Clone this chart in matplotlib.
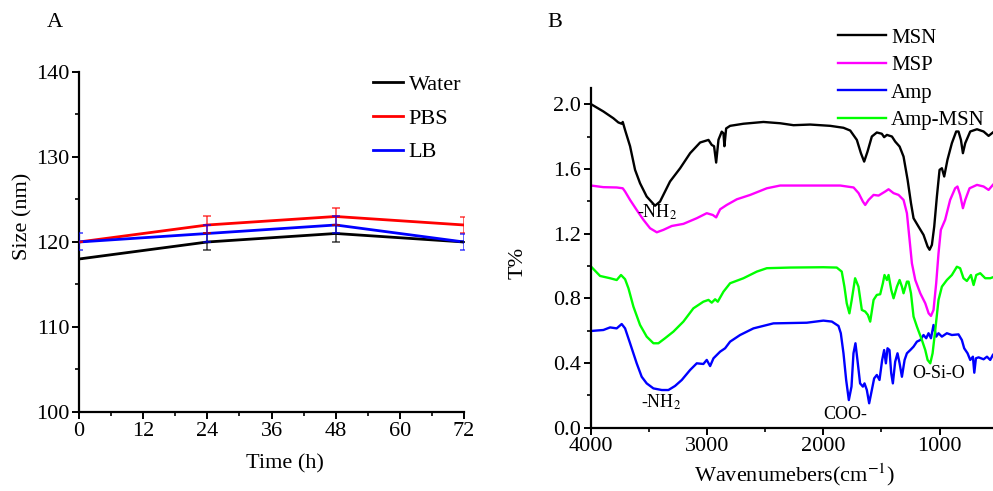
import matplotlib
matplotlib.use("Agg")
import matplotlib.pyplot as plt
from matplotlib.ticker import MultipleLocator, FormatStrFormatter

plt.rcParams['font.family'] = ['Liberation Serif', 'DejaVu Serif']
plt.rcParams['mathtext.fontset'] = 'stix'

# --- Panel A: particle size vs time ---
time_h = [0, 24, 48, 72]
water = [118, 120, 121, 120]
water_err = [0, 1, 1, 0]
pbs = [120, 122, 123, 122]
pbs_err = [0, 1, 1, 0.9]
lb = [120, 121, 122, 120]
lb_err = [1, 1, 1, 0.9]

# --- Panel B: FTIR spectra (wavenumber, T%) ---
msn_w = [4000, 3894, 3808, 3765, 3736, 3727, 3707, 3664, 3621, 3578, 3521, 3449, 3406, 3320,
         3233, 3147, 3061, 2989, 2961, 2941, 2923, 2903, 2875, 2860, 2852, 2837, 2803, 2688,
         2516, 2372, 2257, 2114, 1941, 1827, 1769, 1712, 1677, 1649, 1620, 1583, 1540, 1497,
         1477, 1453, 1410, 1382, 1344, 1310, 1275, 1246, 1224, 1181, 1138, 1103, 1086, 1066,
         1046, 1023, 1000, 980, 960, 932, 894, 857, 837, 816, 799, 779, 736, 678, 621, 578, 541]
msn_t = [2.0, 1.955, 1.913, 1.887, 1.879, 1.89, 1.84, 1.74, 1.594, 1.511, 1.429, 1.372, 1.398, 1.522,
         1.604, 1.697, 1.763, 1.779, 1.748, 1.74, 1.639, 1.78, 1.83, 1.82, 1.74, 1.85, 1.866, 1.879,
         1.89, 1.882, 1.87, 1.874, 1.866, 1.854, 1.837, 1.779, 1.697, 1.645, 1.707, 1.80, 1.825, 1.817,
         1.796, 1.81, 1.80, 1.769, 1.738, 1.676, 1.532, 1.388, 1.295, 1.243, 1.192, 1.12, 1.10, 1.13,
         1.243, 1.429, 1.594, 1.604, 1.553, 1.656, 1.759, 1.831, 1.831, 1.779, 1.697, 1.759, 1.831,
         1.845, 1.831, 1.804, 1.825]

msp_w = [4000, 3894, 3779, 3727, 3707, 3664, 3607, 3549, 3492, 3434, 3377, 3305, 3205, 3090,
         3004, 2952, 2923, 2889, 2832, 2745, 2630, 2487, 2372, 2143, 1855, 1740, 1697, 1660,
         1640, 1611, 1568, 1525, 1468, 1439, 1396, 1353, 1310, 1281, 1258, 1238, 1209, 1166,
         1123, 1094, 1074, 1052, 1029, 1009, 989, 952, 909, 866, 846, 823, 799, 779, 742, 678,
         621, 578, 541]
msp_t = [1.497, 1.487, 1.485, 1.48, 1.46, 1.408, 1.346, 1.285, 1.233, 1.208, 1.223, 1.247, 1.26, 1.295,
         1.326, 1.315, 1.30, 1.35, 1.377, 1.412, 1.439, 1.48, 1.497, 1.497, 1.497, 1.485, 1.45, 1.398,
         1.377, 1.408, 1.439, 1.435, 1.46, 1.474, 1.45, 1.439, 1.408, 1.326, 1.161, 1.016, 0.913, 0.831,
         0.769, 0.707, 0.691, 0.728, 0.893, 1.078, 1.223, 1.285, 1.408, 1.48, 1.491, 1.439, 1.357,
         1.408, 1.48, 1.501, 1.491, 1.47, 1.501]

amp_w = [4000, 3894, 3836, 3779, 3736, 3707, 3664, 3607, 3564, 3521, 3463, 3391, 3334, 3277,
         3219, 3147, 3090, 3033, 3004, 2975, 2946, 2889, 2846, 2803, 2717, 2602, 2430, 2143,
         2000, 1927, 1870, 1850, 1827, 1804, 1781, 1758, 1741, 1724, 1707, 1684, 1660, 1646,
         1626, 1606, 1583, 1563, 1540, 1517, 1494, 1477, 1462, 1448, 1431, 1416, 1402, 1382,
         1362, 1344, 1324, 1301, 1281, 1252, 1224, 1195, 1166, 1138, 1115, 1095, 1074, 1052,
         1029, 1009, 980, 937, 894, 837, 808, 788, 759, 736, 713, 701, 687, 664, 621, 592, 564, 541]
amp_t = [0.598, 0.604, 0.62, 0.614, 0.641, 0.614, 0.522, 0.398, 0.315, 0.274, 0.243, 0.233, 0.233,
         0.258, 0.295, 0.357, 0.398, 0.394, 0.419, 0.381, 0.429, 0.47, 0.491, 0.532, 0.573, 0.614,
         0.645, 0.649, 0.662, 0.656, 0.629, 0.584, 0.46, 0.295, 0.171, 0.254, 0.46, 0.522, 0.419,
         0.274, 0.254, 0.274, 0.233, 0.151, 0.233, 0.305, 0.326, 0.295, 0.419, 0.48, 0.398, 0.491,
         0.48, 0.336, 0.274, 0.408, 0.46, 0.398, 0.315, 0.419, 0.46, 0.48, 0.501, 0.532, 0.542,
         0.573, 0.553, 0.584, 0.553, 0.635, 0.563, 0.584, 0.563, 0.584, 0.573, 0.577, 0.542, 0.491,
         0.46, 0.419, 0.439, 0.34, 0.429, 0.435, 0.423, 0.439, 0.419, 0.45]

ampmsn_w = [4000, 3922, 3836, 3779, 3742, 3707, 3678, 3635, 3578, 3521, 3463, 3420, 3363, 3291,
            3205, 3119, 3033, 2989, 2961, 2932, 2909, 2860, 2803, 2688, 2573, 2487, 2286, 2000,
            1885, 1842, 1819, 1799, 1776, 1756, 1727, 1698, 1669, 1640, 1617, 1597, 1568, 1540,
            1511, 1488, 1474, 1453, 1439, 1416, 1396, 1367, 1344, 1324, 1310, 1281, 1267, 1246,
            1224, 1195, 1152, 1123, 1103, 1080, 1060, 1037, 1009, 980, 937, 894, 851, 823, 794,
            765, 730, 707, 684, 650, 607, 564, 541]
ampmsn_t = [0.996, 0.938, 0.924, 0.913, 0.944, 0.918, 0.862, 0.748, 0.635, 0.563, 0.522, 0.522,
            0.553, 0.594, 0.656, 0.738, 0.779, 0.79, 0.773, 0.794, 0.779, 0.841, 0.893, 0.924, 0.965,
            0.986, 0.99, 0.992, 0.99, 0.965, 0.872, 0.769, 0.707, 0.79, 0.924, 0.872, 0.728, 0.718,
            0.697, 0.656, 0.79, 0.821, 0.825, 0.893, 0.944, 0.913, 0.944, 0.852, 0.80, 0.872, 0.913,
            0.872, 0.831, 0.903, 0.903, 0.831, 0.687, 0.625, 0.542, 0.48, 0.419, 0.398, 0.46, 0.604,
            0.79, 0.872, 0.913, 0.944, 0.995, 0.986, 0.924, 0.907, 0.944, 0.882, 0.944, 0.955, 0.924,
            0.924, 0.93]


def style_axes(ax):
    for side in ('top', 'right'):
        ax.spines[side].set_visible(False)
    for side in ('left', 'bottom'):
        ax.spines[side].set_linewidth(1.6)
    ax.tick_params(which='major', direction='out', length=5, width=1.4, labelsize=16, pad=2)
    ax.tick_params(which='minor', direction='out', length=3, width=1.2)


fig = plt.figure(figsize=(9.93, 4.91), dpi=100)

# Panel A
axA = fig.add_axes([0.0796, 0.1609, 0.3877, 0.6925])
axA.plot(time_h, water, color='black', lw=2, label='Water', zorder=3)
axA.plot(time_h, pbs, color='red', lw=2, label='PBS', zorder=3)
axA.plot(time_h, lb, color='blue', lw=2, label='LB', zorder=3)
axA.errorbar(time_h, water, yerr=water_err, fmt='none', ecolor='black', alpha=0.7,
             elinewidth=1.2, capsize=3, capthick=1.2, zorder=4)
axA.errorbar(time_h, pbs, yerr=pbs_err, fmt='none', ecolor='red', alpha=0.7,
             elinewidth=1.2, capsize=3, capthick=1.2, zorder=4)
axA.errorbar(time_h, lb, yerr=lb_err, fmt='none', ecolor='blue', alpha=0.7,
             elinewidth=1.2, capsize=3, capthick=1.2, zorder=4)
axA.set_xlim(0, 72)
axA.set_ylim(100, 140)
axA.xaxis.set_major_locator(MultipleLocator(12))
axA.xaxis.set_minor_locator(MultipleLocator(6))
axA.yaxis.set_major_locator(MultipleLocator(10))
axA.yaxis.set_minor_locator(MultipleLocator(5))
style_axes(axA)
axA.set_xlabel('Time (h)', fontsize=16)
axA.set_ylabel('Size (nm)', fontsize=16)
axA.xaxis.set_label_coords(0.535, -0.125)
axA.yaxis.set_label_coords(-0.122, 0.576)
axA.legend(loc='upper left', bbox_to_anchor=(0.3756, 0.849), bbox_transform=fig.transFigure,
           frameon=False, fontsize=16, handlelength=1.35, handletextpad=0.25,
           labelspacing=0.6, borderpad=0, borderaxespad=0)
fig.text(0.0554, 0.955, 'A', fontsize=16, ha='center', va='center')

# Panel B
axB = fig.add_axes([0.5952, 0.1289, 0.4048, 0.6919])
axB.plot(msn_w, msn_t, color='black', lw=1.7, label='MSN')
axB.plot(msp_w, msp_t, color='#ff00ff', lw=1.7, label='MSP')
axB.plot(amp_w, amp_t, color='#0000ff', lw=1.7, label='Amp')
axB.plot(ampmsn_w, ampmsn_t, color='#00ff00', lw=1.7, label='Amp-MSN')
axB.set_xlim(4000, 540)
axB.set_ylim(0, 2.1)
axB.xaxis.set_major_locator(MultipleLocator(1000))
axB.xaxis.set_minor_locator(MultipleLocator(500))
axB.yaxis.set_major_locator(MultipleLocator(0.4))
axB.yaxis.set_minor_locator(MultipleLocator(0.2))
axB.yaxis.set_major_formatter(FormatStrFormatter('%.1f'))
style_axes(axB)
axB.set_xlabel('Wavenumebers(cm$^{-1}$)', fontsize=16)
axB.set_ylabel('T%', fontsize=16)
axB.xaxis.set_label_coords(0.507, -0.098)
axB.yaxis.set_label_coords(-0.157, 0.485)

axB.text(3432, 1.334, '-NH$_2$', fontsize=13, ha='center', va='center')
axB.text(3398, 0.159, '-NH$_2$', fontsize=13, ha='center', va='center')
axB.text(1814, 0.079, 'COO-', fontsize=13, ha='center', va='center')
axB.text(1005, 0.338, 'O-Si-O', fontsize=13, ha='center', va='center')

axB.legend(loc='upper left', bbox_to_anchor=(0.844, 0.943), bbox_transform=fig.transFigure,
           frameon=False, fontsize=15, handlelength=2.3, handletextpad=0.25,
           labelspacing=0.38, borderpad=0, borderaxespad=0)
fig.text(0.559, 0.955, 'B', fontsize=16, ha='center', va='center')

fig.savefig('out.png', dpi=100)
